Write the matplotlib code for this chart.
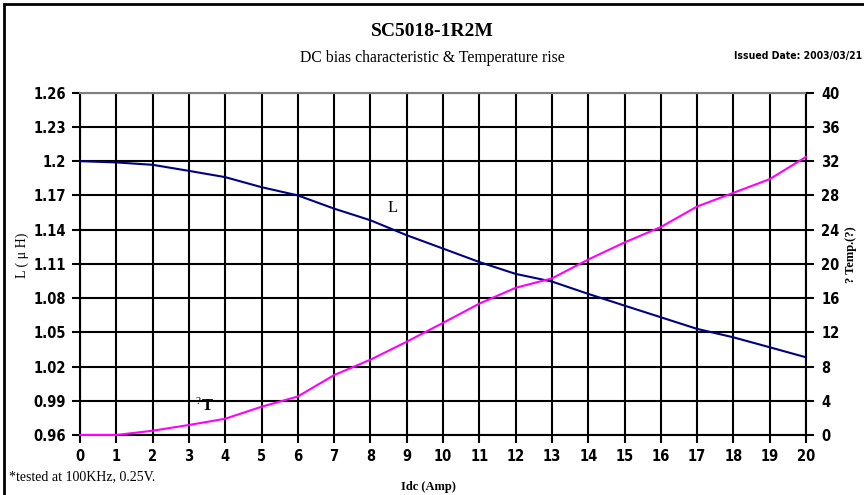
import matplotlib
matplotlib.use("Agg")
import matplotlib.pyplot as plt
from matplotlib.patches import Rectangle

# DC bias data
idc = list(range(21))
inductance = [1.2, 1.1989, 1.1968, 1.1915, 1.186, 1.1772, 1.17, 1.1584, 1.1482,
              1.1351, 1.1234, 1.1116, 1.1012, 1.0945, 1.0837, 1.0734, 1.0632,
              1.053, 1.0456, 1.0369, 1.0281]
temp_rise = [0, 0, 0.5, 1.17, 1.9, 3.3, 4.5, 7.0, 8.8, 10.9, 13.1, 15.35, 17.2,
             18.3, 20.5, 22.5, 24.3, 26.7, 28.3, 29.9, 32.5]

l_ticks = [0.96, 0.99, 1.02, 1.05, 1.08, 1.11, 1.14, 1.17, 1.2, 1.23, 1.26]
l_tick_labels = ["0.96", "0.99", "1.02", "1.05", "1.08", "1.11", "1.14", "1.17", "1.2", "1.23", "1.26"]
t_ticks = [0, 4, 8, 12, 16, 20, 24, 28, 32, 36, 40]

serif = ["Liberation Serif", "DejaVu Serif"]
tick_font = dict(family="DejaVu Sans", fontweight="bold", fontsize=10.5, fontstretch="condensed")

fig = plt.figure(figsize=(8.64, 4.95), dpi=100)
ax = fig.add_axes([80 / 864, 1 - 435 / 495, 726 / 864, (435 - 92.7) / 495])

ax.plot(idc, inductance, color="#000080", lw=1.5, zorder=4, clip_on=False)
ax.set_xlim(0, 20)
ax.set_ylim(0.96, 1.26)
ax.set_xticks(idc)
ax.set_xticklabels([str(i) for i in idc], **tick_font)
ax.set_yticks(l_ticks)
ax.set_yticklabels(l_tick_labels, **tick_font)
ax.tick_params(axis="both", direction="out", length=6, width=1.5, color="black")
ax.tick_params(axis="x", pad=4)
ax.tick_params(axis="y", pad=4)
ax.grid(True, color="black", lw=1.5)
ax.set_axisbelow(True)
for side in ["left", "right", "bottom"]:
    ax.spines[side].set_linewidth(1.5)
    ax.spines[side].set_color("black")
ax.spines["top"].set_color("#808080")
ax.spines["top"].set_linewidth(1.5)
ax.spines["top"].set_zorder(5)

ax2 = ax.twinx()
ax2.plot(idc, temp_rise, color="#FF00FF", lw=1.5, zorder=4, clip_on=False)
ax2.set_ylim(0, 40)
ax2.set_yticks(t_ticks)
ax2.set_yticklabels([str(t) for t in t_ticks], **tick_font)
ax2.tick_params(axis="y", direction="out", length=6, width=1.5, pad=5)
for s in ax2.spines.values():
    s.set_visible(False)

# curve labels
ax.text(8.6, 1.159, "L", family=serif, fontsize=12, ha="center", va="center")
ax2.text(3.3, 3.9, "?", family=serif, fontsize=8, ha="right", va="center")
ax2.text(3.5, 3.4, "T", family=serif, fontsize=12, fontweight="bold", ha="center", va="center")

# titles and axis labels
fig.text(0.5, 1 - 31 / 495, "SC5018-1R2M", family=serif, fontsize=14, fontweight="bold",
         ha="center", va="center")
fig.text(0.5, 1 - 58 / 495, "DC bias characteristic & Temperature rise", family=serif,
         fontsize=11.3, ha="center", va="center")
fig.text(862 / 864, 1 - 56 / 495, "Issued Date: 2003/03/21", family="DejaVu Sans",
         fontsize=7.5, fontweight="bold", fontstretch="condensed", ha="right", va="center")
fig.text(22 / 864, 1 - 255 / 495, "L ( μ H)", family=serif, fontsize=10, rotation=90,
         ha="center", va="center")
fig.text(851 / 864, 1 - 255 / 495, "? Temp.(?)", family=serif, fontsize=9, fontweight="bold",
         rotation=90, ha="center", va="center")
fig.text(428 / 864, 1 - 487 / 495, "Idc (Amp)", family=serif, fontsize=9, fontweight="bold",
         ha="center", va="center")
fig.text(9 / 864, 1 - 477 / 495, "*tested at 100KHz, 0.25V.", family=serif, fontsize=10,
         ha="left", va="center")

# chart frame
fig.patches.append(Rectangle((4 / 864, -0.05), 1.05, 1 - 4 / 495 + 0.05,
                             transform=fig.transFigure, fill=False, lw=2, ec="black"))

fig.savefig("out.png", dpi=100)
